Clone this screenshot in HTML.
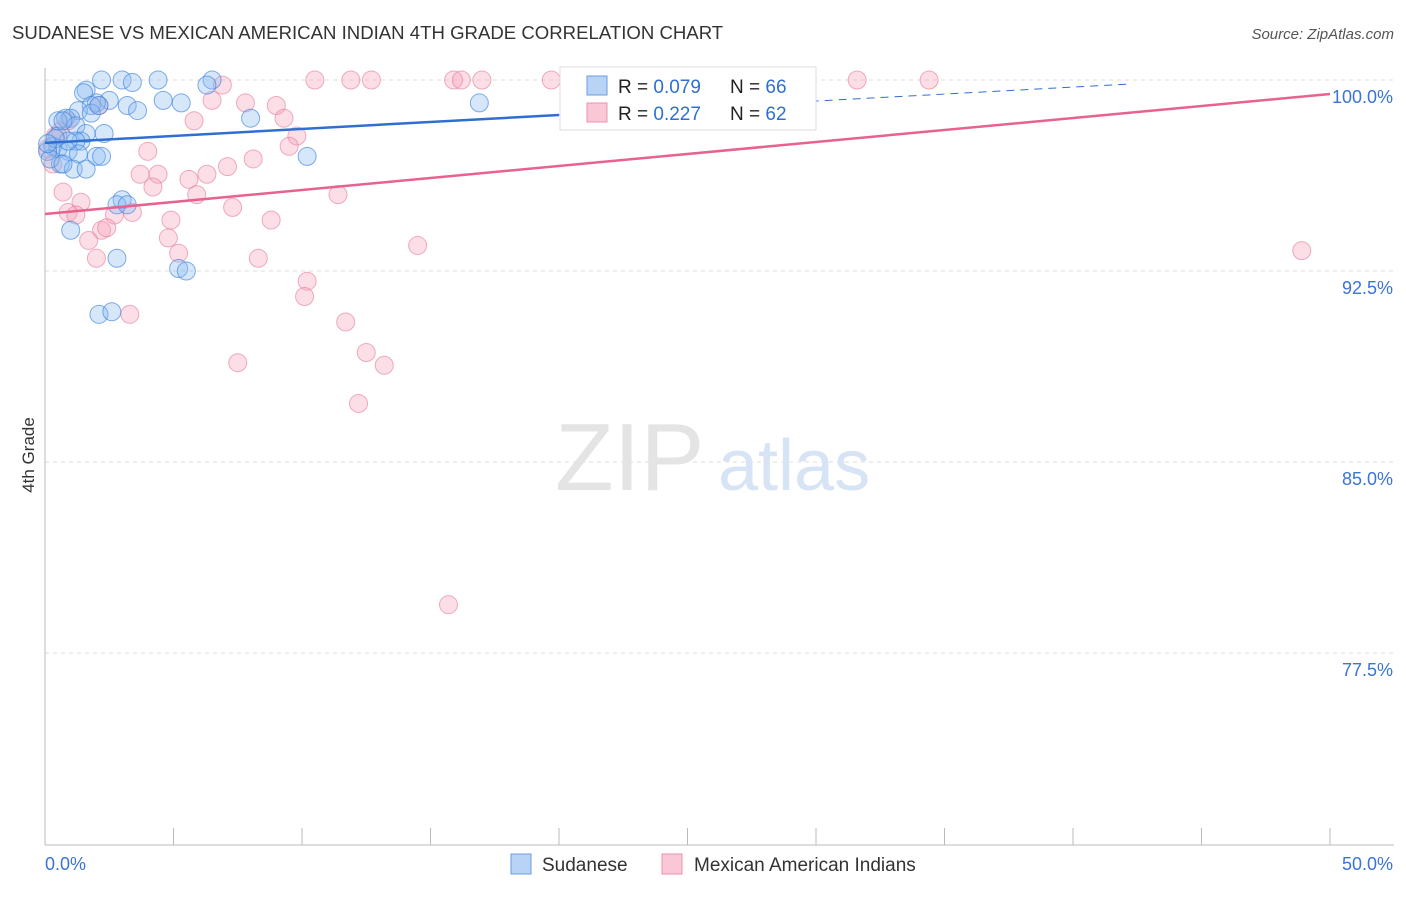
<!DOCTYPE html>
<html><head><meta charset="utf-8"><style>
body{margin:0;background:#fff;font-family:"Liberation Sans",sans-serif}
svg text{font-family:"Liberation Sans",sans-serif}
</style></head><body>
<svg id="c" width="1406" height="892" xmlns="http://www.w3.org/2000/svg">
<text x="12" y="39" font-size="18.6" fill="#333">SUDANESE VS MEXICAN AMERICAN INDIAN 4TH GRADE CORRELATION CHART</text>
<text x="1394" y="39" font-size="15" fill="#555" font-style="italic" text-anchor="end">Source: ZipAtlas.com</text>
<text x="34" y="455" font-size="17" fill="#333" text-anchor="middle" transform="rotate(-90 34 455)">4th Grade</text>
<g id="grid"></g>
<text x="555" y="490" font-size="96" fill="#e4e4e4" font-family="Liberation Serif">ZIP</text>
<text x="718" y="490" font-size="72" fill="#d6e4f5">atlas</text>
<g id="pts"></g>
<g id="lines"></g>
<g>
<rect x="560" y="67" width="256" height="63" fill="#fff" stroke="#ddd"/>
<rect x="587" y="76" width="20" height="19" fill="#b8d3f5" stroke="#6a9de0"/>
<rect x="587" y="103" width="20" height="19" fill="#f9c7d5" stroke="#eb93ad"/>
<text x="618" y="93" font-size="19" fill="#222">R = <tspan fill="#2f6fd0">0.079</tspan></text>
<text x="730" y="93" font-size="19" fill="#222">N = <tspan fill="#2f6fd0">66</tspan></text>
<text x="618" y="120" font-size="19" fill="#222">R = <tspan fill="#2f6fd0"> 0.227</tspan></text>
<text x="730" y="120" font-size="19" fill="#222">N = <tspan fill="#2f6fd0">62</tspan></text>
</g>
<g>
<rect x="511" y="854" width="20" height="20" fill="#b8d3f5" stroke="#6a9de0"/>
<text x="542" y="871" font-size="19" fill="#333">Sudanese</text>
<rect x="662" y="854" width="20" height="20" fill="#f9c7d5" stroke="#eb93ad"/>
<text x="694" y="871" font-size="19" fill="#333">Mexican American Indians</text>
</g>
</svg>
<script>
const yTicks=[100,92.5,85,77.5];
const yTickLabels=["100.0%","92.5%","85.0%","77.5%"];
const xTickLabels=["0.0%","50.0%"];
const blueX=[2.2,3.0,4.4,6.5,3.4,6.3,1.6,1.5,2.5,4.6,5.3,2.0,1.8,3.2,3.6,1.3,1.8,0.8,1.0,0.5,8.0,1.2,2.3,1.6,0.5,1.4,1.2,0.3,0.5,0.1,0.9,1.3,2.0,2.2,10.2,0.6,1.1,1.6,3.0,2.8,3.2,1.0,2.8,5.2,5.5,2.1,2.6,16.9,0.9,0.2,0.7,2.1,0.4,0.1,0.7];
const blueY=[100,100,100,100,99.9,99.8,99.6,99.5,99.2,99.2,99.1,99.1,99.0,99.0,98.8,98.8,98.7,98.5,98.5,98.4,98.5,98.2,97.9,97.9,97.8,97.6,97.6,97.4,97.3,97.2,97.2,97.1,97.0,97.0,97.0,96.7,96.5,96.5,95.3,95.1,95.1,94.1,93.0,92.6,92.5,90.8,90.9,99.1,97.6,96.9,98.4,99.0,97.7,97.5,96.7];
const pinkX=[10.5,11.9,12.7,15.9,16.2,17.0,19.7,26.3,29.3,31.6,34.4,6.9,6.5,7.8,9.0,9.3,5.8,9.8,4.0,8.1,7.1,9.5,3.7,4.4,6.3,5.6,4.2,5.9,11.4,7.3,1.4,0.9,1.2,3.4,2.7,4.9,8.8,2.2,2.4,1.7,4.8,5.2,2.0,8.3,14.5,10.2,10.1,3.3,11.7,12.5,7.5,13.2,12.2,15.7,48.9,0.7,0.3,0.4,0.6,0.1,2.1,0.9];
const pinkY=[100,100,100,100,100,100,100,100,100,100,100,99.8,99.2,99.1,99.0,98.5,98.4,97.8,97.2,96.9,96.6,97.4,96.3,96.3,96.3,96.1,95.8,95.5,95.5,95.0,95.2,94.8,94.7,94.8,94.7,94.5,94.5,94.1,94.2,93.7,93.8,93.2,93.0,93.0,93.5,92.1,91.5,90.8,90.5,89.3,88.9,88.8,87.3,79.4,93.3,95.6,96.7,97.8,98.0,97.3,99.0,98.4];
const blueTrend=[97.53,100.27];
const pinkTrend=[94.74,99.45];
const NS="http://www.w3.org/2000/svg";
const X=v=>45+v/50*1285;
const Y=v=>80+(100-v)*25.47;
function mk(t,a,p){const e=document.createElementNS(NS,t);for(const k in a)e.setAttribute(k,a[k]);p.appendChild(e);return e;}
const grid=document.getElementById('grid');
yTicks.forEach((t,i)=>{
 const l=mk('line',{x1:45,x2:1394,y1:Y(t),y2:Y(t),stroke:'#ddd','stroke-dasharray':'4 4'},grid);
 
 
 const tx=mk('text',{x:1393,y:Y(t)+23,'font-size':18,fill:'#3a74d4','text-anchor':'end'},grid);
 tx.textContent=yTickLabels[i];
 
 
});
const ax=mk('line',{x1:45,x2:45,y1:68,y2:845,stroke:'#bbb'},grid);


const bx=mk('line',{x1:45,x2:1394,y1:845,y2:845,stroke:'#bbb'},grid);


for(let i=0;i<=10;i++){
 const tk=mk('line',{x1:X(i*5),x2:X(i*5),y1:828,y2:845,stroke:'#bbb'},grid);
 
 
}
[[0,'start',45],[50,'end',1393]].forEach((d,i)=>{
 const tx=mk('text',{x:d[2],y:870,'font-size':18,fill:'#3a74d4','text-anchor':d[1]},grid);
 tx.textContent=xTickLabels[i];
 
 
});
const pts=document.getElementById('pts');
pinkX.forEach((x,i)=>{
 const c=mk('circle',{cx:X(x),cy:Y(pinkY[i]),r:9,fill:'rgba(245,160,185,0.35)',stroke:'rgba(230,120,155,0.6)'},pts);
 
 
});
blueX.forEach((x,i)=>{
 const c=mk('circle',{cx:X(x),cy:Y(blueY[i]),r:9,fill:'rgba(140,185,240,0.35)',stroke:'rgba(60,130,220,0.65)'},pts);
 
 
});
const lines=document.getElementById('lines');
const bY=x=>blueTrend[0]+(blueTrend[1]-blueTrend[0])*x/50;
const bl=mk('line',{x1:X(0),y1:Y(bY(0)),x2:X(20),y2:Y(bY(20)),stroke:'#2f6fd0','stroke-width':2.5},lines);


const bd=mk('line',{x1:X(20),y1:Y(bY(20)),x2:X(42.2),y2:Y(bY(42.2)),stroke:'#2f6fd0','stroke-width':1,'stroke-dasharray':'8 6'},lines);


const pl=mk('line',{x1:X(0),y1:Y(pinkTrend[0]),x2:X(50),y2:Y(pinkTrend[1]),stroke:'#e8628e','stroke-width':2.5},lines);


</script>
</body></html>
